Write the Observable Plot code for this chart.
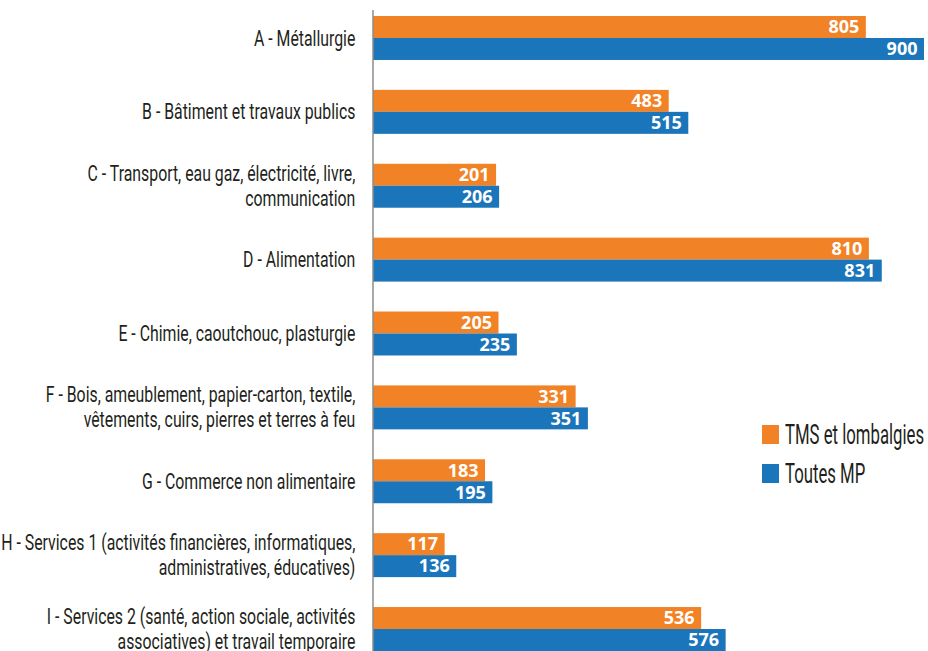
<!DOCTYPE html>
<html><head><meta charset="utf-8">
<script src="https://cdn.jsdelivr.net/npm/d3@7"></script>
<script src="https://cdn.jsdelivr.net/npm/@observablehq/plot@0.6"></script>
<style>
body{margin:0;background:#fff;}
#wrap{position:relative;width:928px;height:651px;overflow:hidden;}
.legend{position:absolute;left:762px;top:415px;font-family:Roboto,"Noto Sans",sans-serif;font-size:27px;color:#231f20;white-space:nowrap;}
.legend .row{display:flex;align-items:center;height:39px;}
.legend .sw{display:inline-block;flex:none;width:17px;height:19px;margin-right:6px;}
.legend .lab{display:inline-block;transform:scaleX(0.62);transform-origin:left center;}
</style></head><body><div id="wrap"></div>
<script>
const categories = [
  "A - Métallurgie",
  "B - Bâtiment et travaux publics",
  "C - Transport, eau gaz, électricité, livre,\ncommunication",
  "D - Alimentation",
  "E - Chimie, caoutchouc, plasturgie",
  "F - Bois, ameublement, papier-carton, textile,\nvêtements, cuirs, pierres et terres à feu",
  "G - Commerce non alimentaire",
  "H - Services 1 (activités financières, informatiques,\nadministratives, éducatives)",
  "I - Services 2 (santé, action sociale, activités\nassociatives) et travail temporaire"
];
const seriesNames = ["TMS et lombalgies", "Toutes MP"];
const tms = [805, 483, 201, 810, 205, 331, 183, 117, 536];
const toutes = [900, 515, 206, 831, 235, 351, 195, 136, 576];
const colors = ["#F28226", "#1B75BB"];

const W = 928, H = 651, mt = 16, mb = 0, pad = 0.405;
const bw = (H - mt - mb) / (categories.length - pad) * (1 - pad);
const half = bw / 2;
const font = 'Roboto,"Noto Sans",sans-serif';
const numFont = '"Open Sans","Noto Sans",sans-serif';
const labelAnchorX = 355, labelScale = 0.72;

const rowsT = categories.map((c, i) => ({cat: c, v: tms[i]}));
const rowsA = categories.map((c, i) => ({cat: c, v: toutes[i]}));

const chart = Plot.plot({
  width: W,
  height: H,
  marginTop: mt,
  marginBottom: mb,
  marginLeft: 373,
  marginRight: 4,
  x: {domain: [0, 900], axis: null},
  y: {domain: categories, paddingInner: pad, paddingOuter: 0, round: false, axis: null},
  marks: [
    Plot.barX(rowsT, {y: "cat", x: "v", fill: colors[0], insetBottom: half}),
    Plot.barX(rowsA, {y: "cat", x: "v", fill: colors[1], insetTop: half}),
    Plot.ruleX([0], {stroke: "#8c8c8c", strokeWidth: 1.5, insetTop: -6, dx: -0.5}),
    Plot.text(rowsT, {y: "cat", x: "v", text: d => String(d.v), textAnchor: "end", dx: -7, dy: -half / 2,
      fill: "white", fontWeight: "bold", fontSize: 18, fontFamily: numFont}),
    Plot.text(rowsA, {y: "cat", x: "v", text: d => String(d.v), textAnchor: "end", dx: -7, dy: half / 2,
      fill: "white", fontWeight: "bold", fontSize: 18, fontFamily: numFont}),
    Plot.text(categories, {y: d => d, x: 0, text: d => d, textAnchor: "end", dx: -18, dy: -1,
      lineHeight: 1.14, fontSize: 22, fontFamily: font, fill: "#231f20"})
  ]
});
const wrap = document.getElementById("wrap");
wrap.appendChild(chart);

// condense the category labels horizontally around their right anchor
const textGroups = chart.querySelectorAll('g[aria-label="text"]');
const g = textGroups[textGroups.length - 1];
if (g) {
  const outer = document.createElementNS("http://www.w3.org/2000/svg", "g");
  outer.setAttribute("transform", `translate(${labelAnchorX},0) scale(${labelScale},1) translate(${-labelAnchorX},0)`);
  g.parentNode.insertBefore(outer, g);
  outer.appendChild(g);
}

const legend = document.createElement("div");
legend.className = "legend";
seriesNames.forEach((name, i) => {
  const row = document.createElement("div");
  row.className = "row";
  const sw = document.createElement("span");
  sw.className = "sw";
  sw.style.background = colors[i];
  const lab = document.createElement("span");
  lab.className = "lab";
  lab.textContent = name;
  row.appendChild(sw);
  row.appendChild(lab);
  legend.appendChild(row);
});
wrap.appendChild(legend);
</script>
</body></html>
